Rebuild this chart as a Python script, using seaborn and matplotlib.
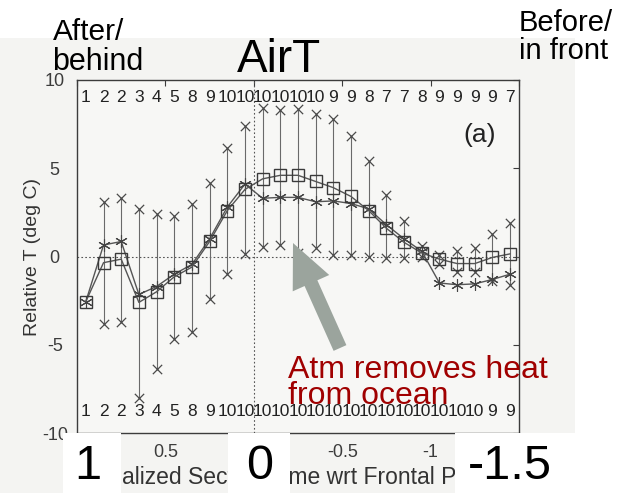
import numpy as np
import matplotlib
matplotlib.use("Agg")
import matplotlib.pyplot as plt
import seaborn as sns
from matplotlib.patches import Rectangle, FancyArrow

# === Data ===
section_time = [0.95, 0.85, 0.75, 0.65, 0.55, 0.45, 0.35, 0.25, 0.15, 0.05,
                -0.05, -0.15, -0.25, -0.35, -0.45, -0.55, -0.65, -0.75, -0.85,
                -0.95, -1.05, -1.15, -1.25, -1.35, -1.45]
mean_t = [-2.55, -0.35, -0.15, -2.6, -2.0, -1.15, -0.6, 0.85, 2.6, 3.8,
          4.4, 4.6, 4.6, 4.25, 3.9, 3.4, 2.6, 1.6, 0.8, 0.2,
          -0.15, -0.4, -0.4, -0.05, 0.15]
median_t = [-2.55, 0.65, 0.85, -2.15, -1.7, -1.0, -0.45, 1.0, 2.8, 4.1,
            3.3, 3.35, 3.35, 3.1, 3.15, 3.0, 2.7, 1.8, 1.0, 0.3,
            -1.5, -1.6, -1.55, -1.3, -1.0]
max_t = [np.nan, 3.1, 3.3, 2.7, 2.4, 2.3, 2.95, 4.15, 6.15, 7.4,
         8.4, 8.3, 8.35, 8.1, 7.8, 6.8, 5.4, 3.5, 2.0, 0.6,
         0.1, 0.3, 0.5, 1.25, 1.9]
min_t = [np.nan, -3.85, -3.7, -8.0, -6.4, -4.7, -4.25, -2.4, -1.0, 0.15,
         0.55, 0.65, 0.2, 0.5, 0.1, 0.1, -0.05, -0.1, -0.1, 0.0,
         -0.4, -0.9, -0.9, -1.4, -1.6]
n_top = [1, 2, 2, 3, 4, 5, 8, 9, 10, 10, 10, 10, 10, 10,
         9, 9, 8, 7, 7, 8, 9, 9, 9, 9, 7]
n_bottom = [1, 2, 2, 3, 4, 5, 8, 9, 10, 10, 10, 10, 10, 10, 10,
            10, 10, 10, 10, 10, 10, 10, 10, 9, 9]
x_ticks = [1, 0.5, 0, -0.5, -1, -1.5]
y_ticks = [-10, -5, 0, 5, 10]

sns.set_style("white")
plt.rcParams["font.family"] = ["Liberation Sans", "DejaVu Sans"]
plt.rcParams["axes.unicode_minus"] = False

W, H = 629, 493
fig = plt.figure(figsize=(W / 100, H / 100), dpi=100)
fig.patch.set_facecolor("white")

# scanned page background
fig.add_artist(Rectangle((0, 0), 575 / W, 1 - 38 / H, transform=fig.transFigure,
                         facecolor="#f4f4f2", edgecolor="none", zorder=-5))

ink = "#3c3c3c"
ax = fig.add_axes([77 / W, 1 - 433 / H, 442 / W, 353 / H])
ax.set_facecolor("#f7f7f5")

# range bars
ax.vlines(section_time, min_t, max_t, color="#6a6a6a", lw=0.8, zorder=2)
for vals in (max_t, min_t):
    sns.scatterplot(x=section_time, y=vals, marker="x", s=45, color="#4a4a4a",
                    linewidth=0.9, ax=ax, zorder=3, legend=False)

sns.lineplot(x=section_time, y=median_t, ax=ax, color="#555555", lw=1.0,
             marker=(6, 2, 0), markersize=9, markeredgecolor="#444444",
             markeredgewidth=0.8, zorder=4, sort=False)
sns.lineplot(x=section_time, y=mean_t, ax=ax, color="#555555", lw=1.0,
             marker="s", markersize=9, markerfacecolor="none",
             markeredgecolor="#3a3a3a", markeredgewidth=1.0, zorder=5, sort=False)

ax.axhline(0, color="#555555", lw=0.8, ls=(0, (1.5, 2)), zorder=1)
ax.axvline(0, color="#555555", lw=0.8, ls=(0, (1.5, 2)), zorder=1)

for xv, n in zip(section_time, n_top):
    ax.text(xv, 9.0, str(n), ha="center", va="center", fontsize=12.5, color="#222222")
for xv, n in zip(section_time, n_bottom):
    ax.text(xv, -8.8, str(n), ha="center", va="center", fontsize=12.5, color="#222222")
ax.text(-1.28, 6.9, "(a)", ha="center", va="center", fontsize=19, color="#222222")

ax.set_xlim(1, -1.5)
ax.set_ylim(-10, 10)
ax.set_xticks(x_ticks)
ax.set_xticklabels([str(t) for t in x_ticks])
ax.set_yticks(y_ticks)
ax.tick_params(direction="in", top=True, right=True, length=4, width=0.8,
               colors=ink, labelsize=13, pad=8)
ax.tick_params(axis="y", pad=16)
for lab in ax.get_yticklabels():
    lab.set_horizontalalignment("center")
for sp in ax.spines.values():
    sp.set_color(ink)
    sp.set_linewidth(1.0)
ax.set_ylabel("Relative T (deg C)", fontsize=14, color="#333333")
ax.yaxis.set_label_coords(-0.082, 0.5)
ax.set_xlabel("Normalized Section Time wrt Frontal Passage", fontsize=16.5, color="#333333")
ax.xaxis.set_label_coords(0.5, -0.093)

# === overlay annotations in pixel coordinates ===
ov = fig.add_axes([0, 0, 1, 1], zorder=10)
ov.set_xlim(0, W)
ov.set_ylim(H, 0)
ov.axis("off")
ov.patch.set_alpha(0)

for x0, w in [(63, 58), (228, 62), (455, 174)]:
    ov.add_patch(Rectangle((x0, 433), w, 60, facecolor="white", edgecolor="none"))

ov.add_patch(FancyArrow(340, 348, -47, -105, width=14, head_width=40, head_length=44,
                        length_includes_head=True, facecolor="#9ba49d", edgecolor="none"))

ov.text(88, 479, "1", fontsize=35, ha="center", va="baseline", color="black")
ov.text(260, 479, "0", fontsize=35, ha="center", va="baseline", color="black")
ov.text(510, 479, "-1.5", fontsize=35, ha="center", va="baseline", color="black")

ov.text(53, 40, "After/", fontsize=21.5, ha="left", va="baseline", color="black")
ov.text(52, 70, "behind", fontsize=22, ha="left", va="baseline", color="black")
ov.text(279, 72, "AirT", fontsize=33, ha="center", va="baseline", color="black")
ov.text(519, 31, "Before/", fontsize=21, ha="left", va="baseline", color="black")
ov.text(519, 59, "in front", fontsize=21, ha="left", va="baseline", color="black")

red = "#a00000"
ov.text(288, 378, "Atm removes heat", fontsize=23, ha="left", va="baseline", color=red)
ov.text(288, 404, "from ocean", fontsize=23, ha="left", va="baseline", color=red)

fig.savefig("out.png", dpi=100)
